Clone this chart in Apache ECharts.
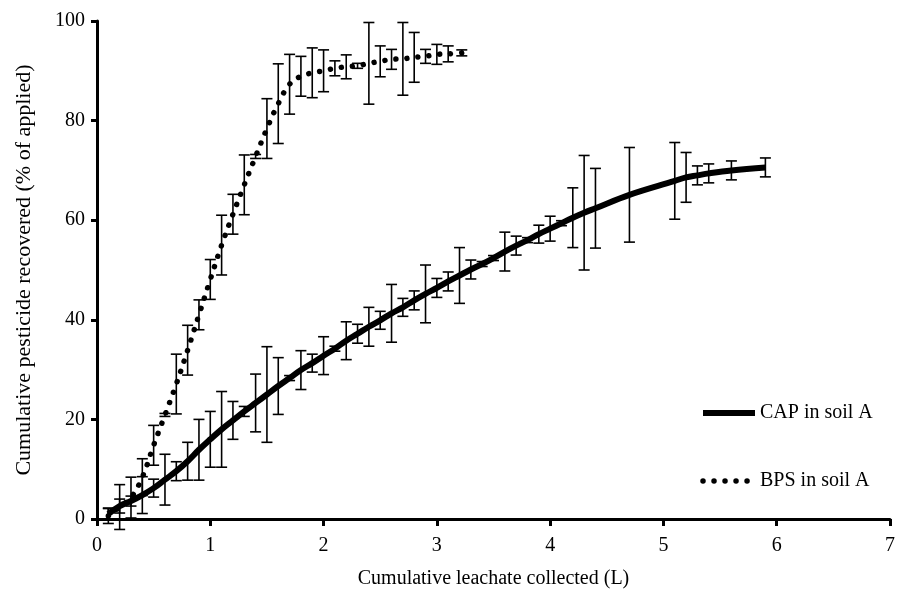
<!DOCTYPE html>
<html>
<head>
<meta charset="utf-8">
<script src="https://cdn.jsdelivr.net/npm/echarts@6/dist/echarts.min.js"></script>
<style>
  html, body { margin: 0; padding: 0; background: #fff; }
  #main { width: 898px; height: 599px; }
</style>
</head>
<body>
<div id="main"></div>
<script>
// CAP in soil A: leachate (L), recovered (%), error (+/-)
var capX   = [0.1, 0.2, 0.3, 0.4, 0.5, 0.6, 0.7, 0.8, 0.9, 1.0, 1.1, 1.2, 1.3, 1.4, 1.5, 1.6, 1.7, 1.8, 1.9, 2.0,
              2.1, 2.2, 2.3, 2.4, 2.5, 2.6, 2.7, 2.8, 2.9, 3.0, 3.1, 3.2, 3.3, 3.4, 3.5, 3.6, 3.7, 3.8, 3.9, 4.0,
              4.1, 4.2, 4.3, 4.4, 4.7, 5.1, 5.2, 5.3, 5.4, 5.6, 5.9];
var capY   = [1.0, 2.6, 3.6, 4.8, 6.2, 7.9, 9.6, 11.6, 13.9, 16.0, 18.0, 19.8, 21.6, 23.3, 25.0, 26.7, 28.3, 29.9, 31.3, 32.8,
              34.2, 35.8, 37.2, 38.6, 39.9, 41.3, 42.5, 43.9, 45.2, 46.4, 47.7, 48.9, 50.1, 51.2, 52.4, 53.7, 54.9, 56.0, 57.2, 58.3,
              59.4, 60.5, 61.5, 62.4, 65.1, 67.9, 68.6, 69.0, 69.4, 70.0, 70.6];
var capErr = [1.2, 1.4, 1.0, 3.7, 1.8, 5.1, 1.9, 3.8, 6.1, 5.6, 7.6, 3.8, 1.0, 5.8, 9.6, 5.7, 0.5, 3.9, 1.8, 3.8,
              0.5, 3.8, 1.9, 3.9, 1.8, 5.8, 1.8, 1.9, 5.8, 1.9, 1.9, 5.6, 1.9, 0.5, 0.5, 3.9, 1.9, 0.5, 1.8, 2.5,
              0.5, 6.0, 11.5, 8.0, 9.5, 7.7, 5.0, 1.9, 1.9, 1.9, 1.9];

// BPS in soil A
var bpsX   = [0.1, 0.2, 0.3, 0.4, 0.5, 0.6, 0.7, 0.8, 0.9, 1.0, 1.1, 1.2, 1.3, 1.4, 1.5, 1.6, 1.7, 1.8, 1.9, 2.0,
              2.1, 2.2, 2.3, 2.4, 2.5, 2.6, 2.7, 2.8, 2.9, 3.0, 3.1, 3.22];
var bpsY   = [0.6, 2.4, 4.3, 8.4, 14.8, 20.9, 27.1, 33.9, 41.0, 48.1, 55.0, 61.2, 67.1, 72.8, 78.4, 83.4, 87.3, 88.9, 89.6, 90.0,
              90.5, 90.8, 91.0, 91.5, 91.9, 92.3, 92.4, 92.7, 92.9, 93.3, 93.4, 93.6];
var bpsErr = [1.5, 4.5, 4.1, 3.7, 4.0, 0.3, 6.0, 5.0, 3.0, 4.0, 6.0, 4.0, 6.0, 0.4, 6.0, 8.0, 6.0, 4.0, 5.0, 4.2,
              1.5, 2.4, 0.5, 8.2, 3.1, 2.0, 7.3, 5.0, 1.4, 2.0, 1.6, 0.6];

var xTicks = [0, 1, 2, 3, 4, 5, 6, 7];
var yTicks = [0, 20, 40, 60, 80, 100];

var fontFam = '"Liberation Serif", "Times New Roman", serif';
var dotLine = { color: '#000', width: 5.5, type: [0.01, 11], cap: 'round' };

function pairs(xs, ys){
	return xs.map(function(x, i){ return [x, ys[i]]; });
}
function errData(xs, ys, es){
	return xs.map(function(x, i){ return [x, ys[i] - es[i], ys[i] + es[i]]; });
}

function renderErr(params, api){
	var x = api.value(0);
	var lo = api.coord([x, api.value(1)]);
	var hi = api.coord([x, api.value(2)]);
	var w = 5.5;
	var st = { stroke: '#000', lineWidth: 1.6 };
	return {
		type: 'group',
		children: [
			{ type: 'line', shape: { x1: lo[0], y1: lo[1], x2: hi[0], y2: hi[1] }, style: st },
			{ type: 'line', shape: { x1: lo[0] - w, y1: lo[1], x2: lo[0] + w, y2: lo[1] }, style: st },
			{ type: 'line', shape: { x1: hi[0] - w, y1: hi[1], x2: hi[0] + w, y2: hi[1] }, style: st }
		]
	};
}

var myChart = echarts.init(document.getElementById('main'));
var option = {
	backgroundColor: '#fff',
	animation: false,
	grid: { left: 97, right: 6, top: 21, bottom: 80, containLabel: false },
	legend: {
		orient: 'vertical',
		left: 695,
		top: 398,
		itemWidth: 52,
		itemHeight: 14,
		itemGap: 48,
		itemStyle: { opacity: 0 },
		data: [
			{ name: 'CAP in soil A', lineStyle: { color: '#000', width: 6 } },
			{ name: 'BPS in soil A', lineStyle: dotLine }
		],
		textStyle: { fontFamily: fontFam, fontSize: 20, color: '#000' }
	},
	xAxis: {
		type: 'value',
		min: xTicks[0],
		max: xTicks[xTicks.length - 1],
		interval: 1,
		name: 'Cumulative leachate collected (L)',
		nameLocation: 'middle',
		nameGap: 50,
		nameTextStyle: { fontFamily: fontFam, fontSize: 20, color: '#000' },
		axisLine: { lineStyle: { color: '#000', width: 3 } },
		axisTick: { inside: false, length: 7, lineStyle: { color: '#000', width: 3 } },
		axisLabel: { fontFamily: fontFam, fontSize: 20, color: '#000', margin: 17 },
		splitLine: { show: false }
	},
	yAxis: {
		type: 'value',
		min: yTicks[0],
		max: yTicks[yTicks.length - 1],
		interval: 20,
		name: 'Cumulative pesticide recovered (% of applied)',
		nameLocation: 'middle',
		nameGap: 62,
		nameTextStyle: { fontFamily: fontFam, fontSize: 22, color: '#000' },
		axisLine: { show: true, lineStyle: { color: '#000', width: 3 } },
		axisTick: { show: true, inside: false, length: 6, lineStyle: { color: '#000', width: 3 } },
		axisLabel: { fontFamily: fontFam, fontSize: 20, color: '#000', margin: 12 },
		splitLine: { show: false }
	},
	series: [
		{
			name: 'CAP err',
			type: 'custom',
			renderItem: renderErr,
			data: errData(capX, capY, capErr),
			z: 2,
			clip: false
		},
		{
			name: 'BPS err',
			type: 'custom',
			renderItem: renderErr,
			data: errData(bpsX, bpsY, bpsErr),
			z: 2,
			clip: false
		},
		{
			name: 'CAP in soil A',
			type: 'line',
			smooth: 0.4,
			showSymbol: false,
			symbol: 'none',
			data: pairs(capX, capY),
			lineStyle: { color: '#000', width: 6 },
			itemStyle: { color: '#000' },
			z: 4
		},
		{
			name: 'BPS in soil A',
			type: 'line',
			smooth: 0.4,
			showSymbol: false,
			symbol: 'none',
			data: pairs(bpsX, bpsY),
			lineStyle: dotLine,
			itemStyle: { color: '#000' },
			z: 3
		}
	]
};
myChart.setOption(option);
</script>
</body>
</html>
